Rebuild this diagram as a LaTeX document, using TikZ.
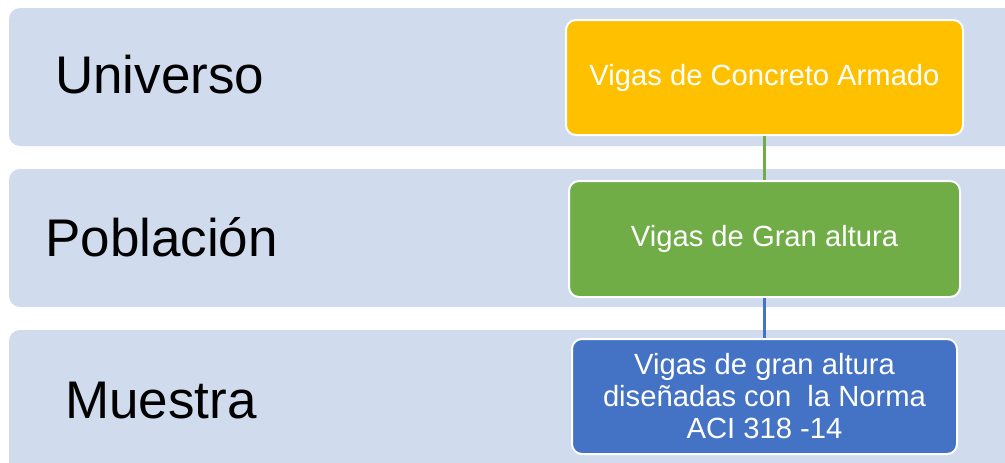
\documentclass[tikz,border=0pt]{standalone}
\usepackage{fontspec}
\setmainfont{Liberation Sans}
\definecolor{bandc}{HTML}{D0DBEE}
\definecolor{yel}{HTML}{FFC000}
\definecolor{grn}{HTML}{70AD47}
\definecolor{blu}{HTML}{4472C4}
\tikzset{
  band/.style={fill=bandc, rounded corners=11pt},
  levelbox/.style={draw=white, line width=2pt, rounded corners=10pt, text=white, inner sep=0pt, align=center,
    font=\fontsize{29.2}{32}\selectfont},
  lbl/.style={anchor=base west, inner sep=0pt, font=\fontsize{53}{60}\selectfont, text=black},
  conn/.style={line width=2.5pt}
}
\begin{document}
\begin{tikzpicture}[x=1pt,y=-1pt]
\clip (0,0) rectangle (1005,463);
\fill[white] (0,0) rectangle (1005,463);
\fill[band] (9,8) rectangle (1030,146);
\fill[band] (9,169) rectangle (1030,307);
\fill[band] (9,330) rectangle (1030,490);
\node[lbl] (u) at (55,93.5) {Universo};
\node[lbl] (p) at (45,256.5) {Población};
\node[lbl] (m) at (65,418.5) {Muestra};
\node[levelbox, fill=yel, minimum width=397pt, minimum height=115pt] (b1) at (764.5,77.5) {Vigas de Concreto Armado};
\node[levelbox, fill=grn, minimum width=391pt, minimum height=116pt] (b2) at (764.5,239) {Vigas de Gran altura};
\node[levelbox, fill=blu, minimum width=385pt, minimum height=115pt] (b3) at (764.5,396.5) {Vigas de gran altura\\diseñadas con\ \ la Norma\\ACI 318 -14};
\draw[conn, grn] (b1.south) -- (b2.north);
\draw[conn, blu] (b2.south) -- (b3.north);
\end{tikzpicture}
\end{document}
